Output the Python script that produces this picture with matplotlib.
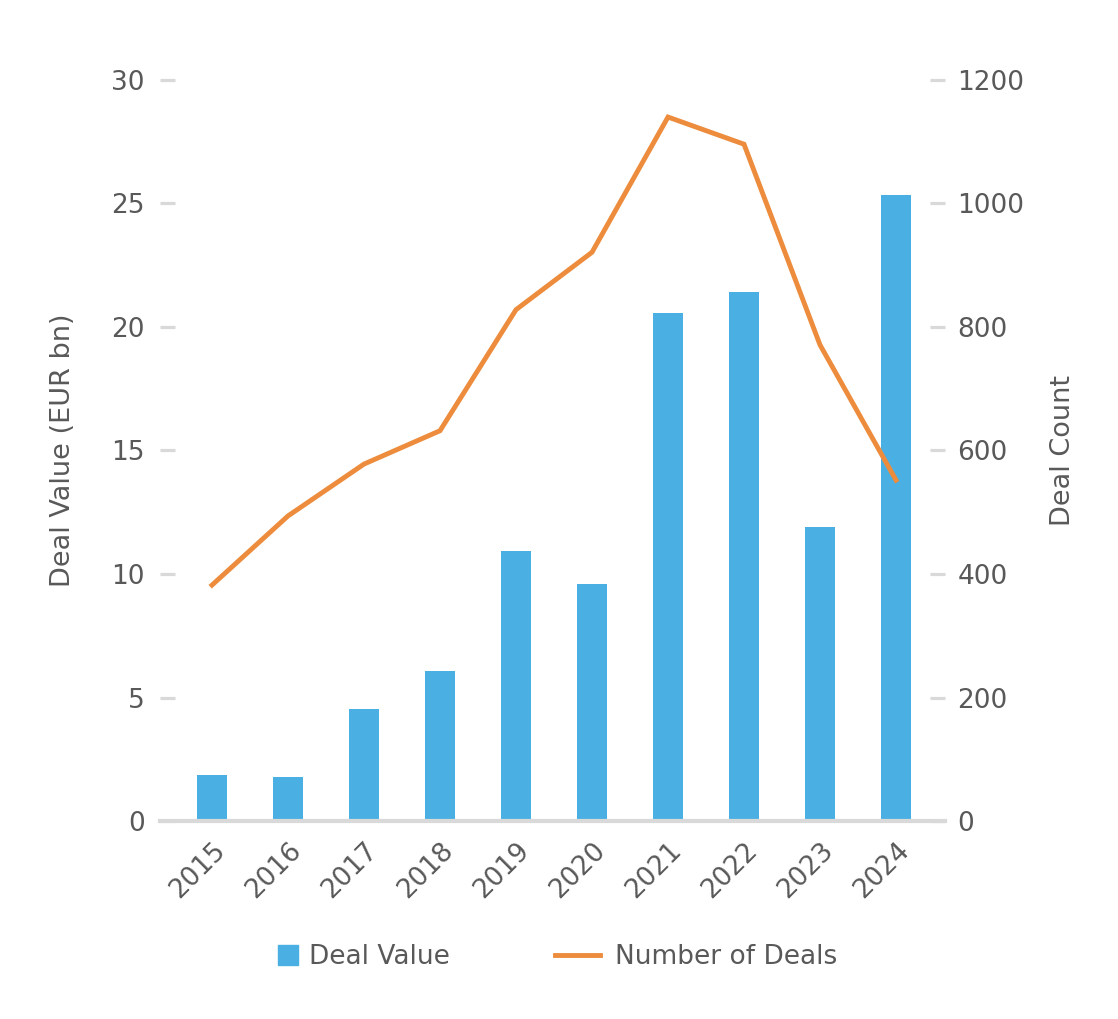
import numpy as np
import matplotlib.pyplot as plt
from matplotlib.lines import Line2D

plt.rcParams['font.family'] = ['DejaVu Sans']

# data
years = ['2015', '2016', '2017', '2018', '2019', '2020', '2021', '2022', '2023', '2024']
deal_value = [1.86, 1.78, 4.53, 6.07, 10.93, 9.6, 20.57, 21.42, 11.9, 25.34]
deal_count = [382, 494, 578, 632, 828, 921, 1140, 1096, 771, 552]

bar_color = '#4AAFE2'
line_color = '#EC8C3C'
text_color = '#595959'
grid_color = '#D9D9D9'
fs = 19

fig = plt.figure(figsize=(11.18, 10.19), dpi=100)
ax = fig.add_axes([0.1431, 0.1943, 0.7022, 0.7272])
ax2 = ax.twinx()

x = np.arange(len(years))
ax.bar(x, deal_value, width=0.39, color=bar_color, zorder=2)
ax2.plot(x, deal_count, color=line_color, lw=3.5, solid_joinstyle='miter')

ax.set_xlim(-0.684, 9.645)
ax.set_ylim(0, 30)
ax2.set_ylim(0, 1200)
ax.set_yticks(np.arange(0, 31, 5))
ax2.set_yticks(np.arange(0, 1201, 200))
ax.set_xticks(x)
ax.set_xticklabels(years, rotation=45, ha='right', va='top', rotation_mode='anchor')

for a in (ax, ax2):
    for s in ['top', 'left', 'right', 'bottom']:
        a.spines[s].set_visible(False)
ax.spines['bottom'].set_visible(True)
ax.spines['bottom'].set_color(grid_color)
ax.spines['bottom'].set_linewidth(3)

ax.tick_params(axis='y', direction='in', length=11, width=2.3, color=grid_color,
               labelsize=fs, labelcolor=text_color, pad=11)
ax2.tick_params(axis='y', direction='in', length=11, width=2.3, color=grid_color,
                labelsize=fs, labelcolor=text_color, pad=9)
ax.tick_params(axis='x', length=0, labelsize=fs, labelcolor=text_color, pad=12)

ax.set_ylabel('Deal Value (EUR bn)', fontsize=19.5, color=text_color, labelpad=25)
ax2.set_ylabel('Deal Count', fontsize=19.5, color=text_color, labelpad=18)

# two separate legend entries so the square and the line get their own widths
bar_handle = Line2D([0], [0], marker='s', markersize=14.5, linestyle='none',
                    color=bar_color)
line_handle = Line2D([0], [0], color=line_color, lw=3.5)
fig.legend([bar_handle], ['Deal Value'], loc='center left',
           bbox_to_anchor=(0.2478, 0.061), frameon=False, fontsize=fs,
           labelcolor=text_color, handlelength=0.8, handletextpad=0.42,
           borderpad=0, borderaxespad=0)
fig.legend([line_handle], ['Number of Deals'], loc='center left',
           bbox_to_anchor=(0.4964, 0.061), frameon=False, fontsize=fs,
           labelcolor=text_color, handlelength=1.7, handletextpad=0.57,
           borderpad=0, borderaxespad=0)

fig.savefig('out.png', dpi=100)
